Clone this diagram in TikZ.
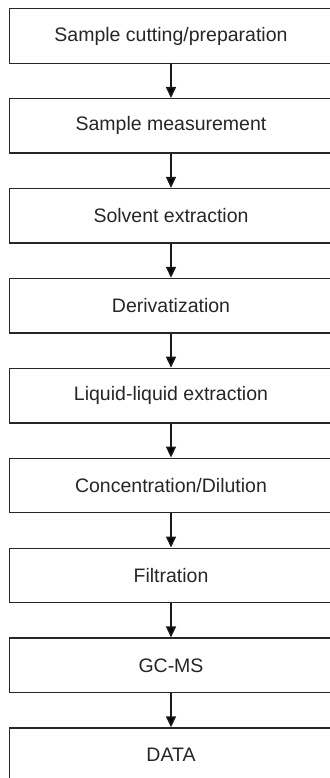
\documentclass[tikz,border=0pt]{standalone}
\usepackage{fontspec}
\setmainfont{Liberation Sans}
\usetikzlibrary{arrows.meta}
\begin{document}
\begin{tikzpicture}[x=1pt, y=1pt,
  stage/.style={rectangle, minimum width=323pt, minimum height=54.5pt, draw=black!85, line width=1.3pt, font=\fontsize{19.5}{23}\selectfont, text=black!85},
  flow/.style={-{Triangle[length=11pt,width=10pt]}, line width=1.6pt, draw=black!90}]

\useasboundingbox (0,0) rectangle (329,-778);

\node [stage] (v1) at (171,-36) {Sample cutting/preparation};
\node [stage] (v2) at (171,-125.9) {Sample measurement};
\node [stage] (v3) at (171,-215.8) {Solvent extraction};
\node [stage] (v4) at (171,-305.7) {Derivatization};
\node [stage] (v5) at (171,-395.6) {Liquid-liquid extraction};
\node [stage] (v6) at (171,-485.5) {Concentration/Dilution};
\node [stage] (v7) at (171,-575.4) {Filtration};
\node [stage] (v8) at (171,-665.3) {GC-MS};
\node [stage] (v9) at (171,-755.2) {DATA};

\draw [flow] (v1) edge (v2);
\draw [flow] (v2) edge (v3);
\draw [flow] (v3) edge (v4);
\draw [flow] (v4) edge (v5);
\draw [flow] (v5) edge (v6);
\draw [flow] (v6) edge (v7);
\draw [flow] (v7) edge (v8);
\draw [flow] (v8) edge (v9);
\end{tikzpicture}
\end{document}
